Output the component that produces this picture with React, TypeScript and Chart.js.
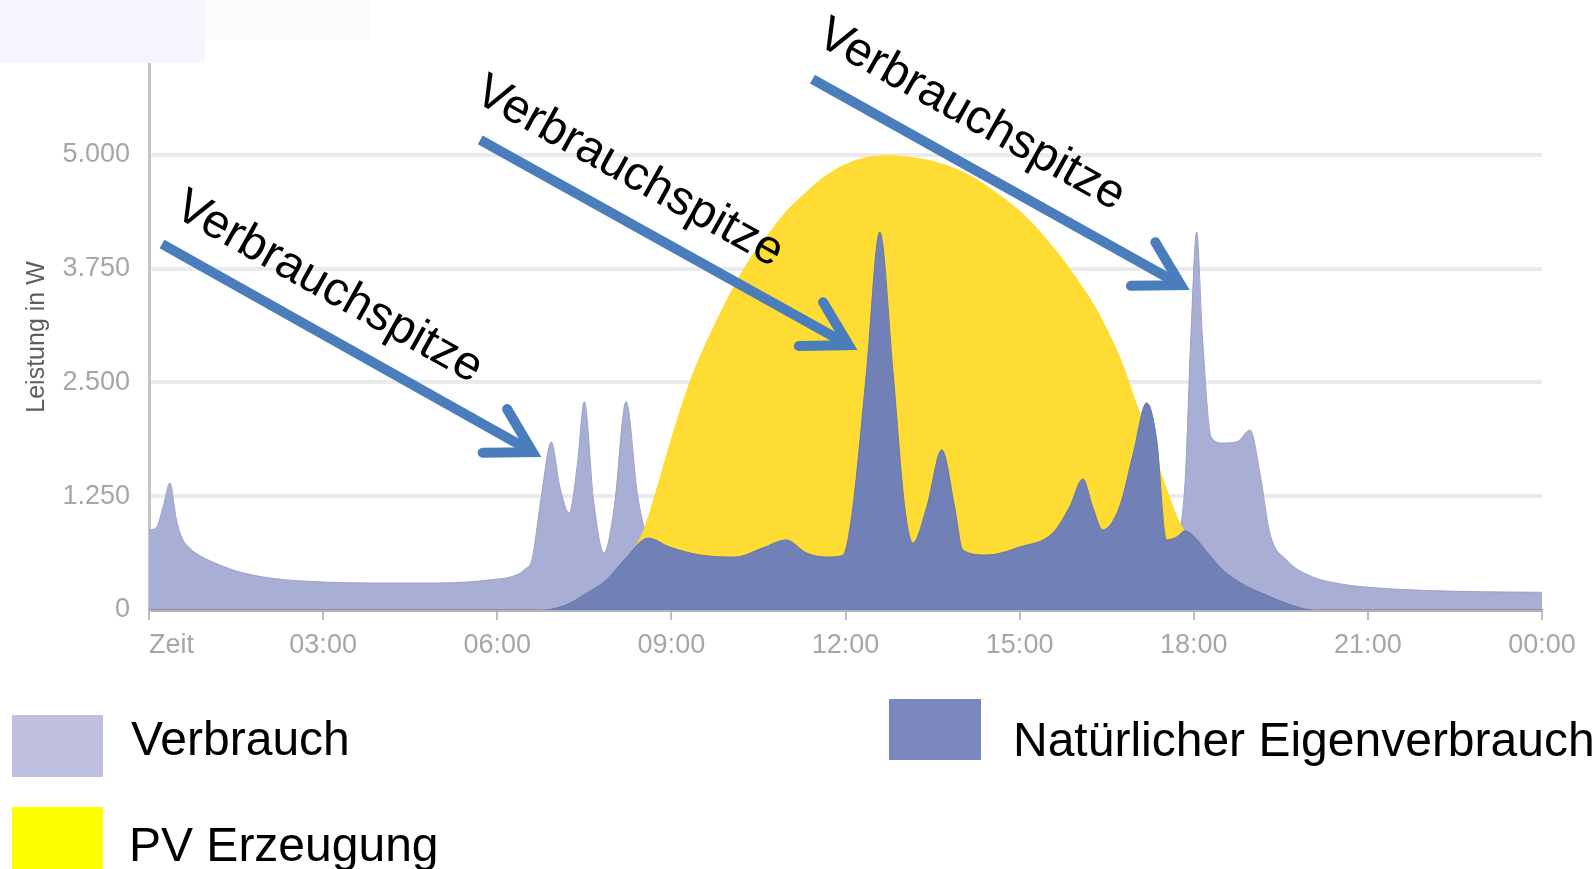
import React, { useEffect, useRef } from "react";
import { Chart, registerables } from "chart.js";

Chart.register(...registerables);

// ---------- data (hours of day, watts) ----------
const verbrauchHours = [
  0, 0.12, 0.25, 0.36, 0.47, 0.55, 0.7, 0.9, 1.2, 1.55, 2.1, 2.98, 3.85, 5.0, 5.86, 6.33, 6.48, 6.6,
  6.76, 6.93, 7.08, 7.24, 7.38, 7.5, 7.66, 7.84, 8.02, 8.22, 8.42, 8.6,
  8.97, 9.5, 10.1, 10.57, 10.98, 11.33, 11.67, 11.95, 12.1, 12.36, 12.59, 12.82, 13.02, 13.16,
  13.4, 13.66, 13.88, 14.02, 14.43, 15.0, 15.57, 15.86, 16.09, 16.26, 16.43, 16.72, 16.95, 17.19,
  17.36, 17.53, 17.7, 17.85, 17.95, 18.05, 18.15, 18.3, 18.5, 18.75, 18.97, 19.14, 19.31, 19.6,
  20.05, 20.5, 21.0, 22.0, 23.0, 24.0,
];
const verbrauchWatts = [
  880, 900, 1150, 1395, 1000, 820, 680, 590, 500, 420, 350, 308, 297, 297, 330, 385, 450, 560,
  1250, 1846, 1350, 1066, 1600, 2290, 1200, 626, 1150, 2290, 1250, 800,
  692, 604, 582, 681, 770, 626, 582, 600, 1000, 2604, 4154, 2604, 1132, 736,
  1132, 1760, 1132, 660, 604, 692, 846, 1132, 1440, 1132, 880, 1132, 1700, 2275,
  1868, 770, 800, 1400, 3000, 4154, 3000, 1900, 1835, 1850, 1978, 1505, 846, 549,
  363, 290, 250, 215, 200, 195,
];

const pvHours = [
  0, 6.8, 7.2, 7.5, 7.88, 8.2, 8.5, 8.75, 8.97, 9.2, 9.43, 9.7, 10.0, 10.35, 10.69, 11.0, 11.33,
  11.6, 11.84, 12.15, 12.47, 12.75, 12.98, 13.4, 13.84, 14.3, 14.7, 15.1, 15.57, 15.9, 16.26,
  16.5, 16.75, 17.0, 17.25, 17.5, 17.7, 17.85, 18.0, 18.25, 18.5, 18.8, 19.3, 19.7, 20.05, 24,
];
const pvWatts = [
  0, 0, 60, 170, 330, 560, 850, 1350, 1830, 2300, 2700, 3080, 3470, 3860, 4150, 4400, 4600,
  4750, 4850, 4940, 4990, 5000, 4990, 4950, 4868, 4720, 4540, 4330, 4000, 3720, 3380,
  3100, 2750, 2300, 1850, 1400, 1050, 870, 810, 620, 440, 300, 150, 50, 0, 0,
];

const eigenHours = [
  0, 6.8, 7.2, 7.5, 7.88, 8.2, 8.6,
  8.97, 9.5, 10.1, 10.57, 10.98, 11.33, 11.67, 11.95, 12.1, 12.36, 12.59, 12.82, 13.02, 13.16,
  13.4, 13.66, 13.88, 14.02, 14.43, 15.0, 15.57, 15.86, 16.09, 16.26, 16.43, 16.72, 16.95, 17.19,
  17.36, 17.53, 17.7, 17.85, 18.0, 18.25, 18.5, 18.8, 19.3, 19.7, 20.05, 24,
];
const eigenWatts = [
  0, 0, 60, 170, 330, 560, 790,
  692, 604, 582, 681, 770, 626, 582, 600, 1000, 2604, 4154, 2604, 1132, 736,
  1132, 1760, 1132, 660, 604, 692, 846, 1132, 1440, 1132, 880, 1132, 1700, 2275,
  1868, 770, 800, 870, 810, 620, 440, 300, 150, 50, 0, 0,
];

const xTickHours = [0, 3, 6, 9, 12, 15, 18, 21, 24];
const xTickLabels = ["Zeit", "03:00", "06:00", "09:00", "12:00", "15:00", "18:00", "21:00", "00:00"];
const yTickValues = [0, 1250, 2500, 3750, 5000];

const seriesLabels = ["Verbrauch", "PV Erzeugung", "Natürlicher Eigenverbrauch"];

// annotations ("Verbrauchspitze" arrows), in data units
const annotationText = "Verbrauchspitze";
const arrowStartHours = [0.224, 5.707, 11.43];
const arrowStartWatts = [4022, 5165, 5835];
const arrowTipHours = [6.76, 12.207, 17.93];
const arrowTipWatts = [1681, 2857, 3516];
const labelHours = [0.397, 5.569, 11.466];
const labelWatts = [4341, 5604, 6231];

// ---------- styles ----------
const FONT = "'Liberation Sans', Arial, Helvetica, sans-serif";
const fillColors = ["#a9aed4", "#fedc34", "#7181b7"];
const borderColors = ["#9ca1c8", "#fedc34", "#6675ad"];
const legendColors = ["#bfc0e0", "#ffff00", "#7b88bf"];
const ARROW_COLOR = "#4a7dbb";

const fmt = (v: number) => String(v).replace(/\B(?=(\d{3})+(?!\d))/g, ".");

const toPoints = (hs: number[], ws: number[]) => hs.map((h, i) => ({ x: h, y: ws[i] }));

const annotationPlugin = {
  id: "verbrauchspitzen",
  afterDatasetsDraw(chart: any) {
    const { ctx } = chart;
    const xs = chart.scales.x;
    const ys = chart.scales.y;
    for (let i = 0; i < arrowTipHours.length; i++) {
      const sx = xs.getPixelForValue(arrowStartHours[i]);
      const sy = ys.getPixelForValue(arrowStartWatts[i]);
      const tx = xs.getPixelForValue(arrowTipHours[i]);
      const ty = ys.getPixelForValue(arrowTipWatts[i]);
      const ang = Math.atan2(ty - sy, tx - sx);
      const c = Math.cos(ang);
      const s = Math.sin(ang);
      const vx = tx - 10 * c;
      const vy = ty - 10 * s;
      ctx.save();
      ctx.strokeStyle = ARROW_COLOR;
      ctx.lineWidth = 10;
      ctx.lineCap = "butt";
      ctx.beginPath();
      ctx.moveTo(sx, sy);
      ctx.lineTo(vx - 6 * c, vy - 6 * s);
      ctx.stroke();
      const hl = 50;
      const ha = Math.PI / 6;
      ctx.lineCap = "round";
      ctx.lineJoin = "miter";
      ctx.beginPath();
      ctx.moveTo(vx - hl * Math.cos(ang - ha), vy - hl * Math.sin(ang - ha));
      ctx.lineTo(vx, vy);
      ctx.lineTo(vx - hl * Math.cos(ang + ha), vy - hl * Math.sin(ang + ha));
      ctx.stroke();
      ctx.restore();

      const lx = xs.getPixelForValue(labelHours[i]);
      const ly = ys.getPixelForValue(labelWatts[i]);
      ctx.save();
      ctx.translate(lx, ly);
      ctx.rotate(ang);
      ctx.fillStyle = "#000000";
      ctx.font = `48px ${FONT}`;
      ctx.textBaseline = "alphabetic";
      ctx.textAlign = "left";
      ctx.fillText(annotationText, 0, 0);
      ctx.restore();
    }
  },
};

export default function App() {
  const canvasRef = useRef<HTMLCanvasElement | null>(null);

  useEffect(() => {
    const canvas = canvasRef.current;
    if (!canvas) return;
    const chart = new Chart(canvas, {
      type: "line",
      data: {
        datasets: [
          {
            label: seriesLabels[0],
            data: toPoints(verbrauchHours, verbrauchWatts),
            backgroundColor: fillColors[0],
            borderColor: borderColors[0],
            borderWidth: 1,
            fill: "origin",
            pointRadius: 0,
            cubicInterpolationMode: "monotone",
            order: 3,
          },
          {
            label: seriesLabels[1],
            data: toPoints(pvHours, pvWatts),
            backgroundColor: fillColors[1],
            borderColor: borderColors[1],
            borderWidth: 0,
            fill: "origin",
            pointRadius: 0,
            cubicInterpolationMode: "monotone",
            order: 2,
          },
          {
            label: seriesLabels[2],
            data: toPoints(eigenHours, eigenWatts),
            backgroundColor: fillColors[2],
            borderColor: borderColors[2],
            borderWidth: 1,
            fill: "origin",
            pointRadius: 0,
            cubicInterpolationMode: "monotone",
            order: 1,
          },
        ],
      },
      options: {
        responsive: false,
        animation: false,
        devicePixelRatio: 1,
        layout: { padding: { left: 0, top: 64, right: 52, bottom: 209 } },
        plugins: { legend: { display: false }, tooltip: { enabled: false } },
        scales: {
          x: {
            type: "linear",
            min: 0,
            max: 24,
            afterBuildTicks: (scale: any) => {
              scale.ticks = xTickHours.map((v) => ({ value: v }));
            },
            afterFit: (scale: any) => {
              scale.height = 50;
            },
            ticks: {
              autoSkip: false,
              maxRotation: 0,
              padding: 9,
              color: "#a6a6a6",
              font: { family: FONT, size: 27 },
              callback: (value: any) => {
                const i = xTickHours.indexOf(Number(value));
                if (i < 0) return "";
                return i === 0 ? "      " + xTickLabels[i] : xTickLabels[i];
              },
            },
            grid: {
              display: true,
              drawOnChartArea: false,
              drawTicks: true,
              tickLength: 10,
              color: "#bdbdbd",
              lineWidth: 2,
            },
            border: { display: true, color: "#b3b3b3", width: 3 },
          },
          y: {
            type: "linear",
            min: 0,
            max: 6000,
            afterBuildTicks: (scale: any) => {
              scale.ticks = yTickValues.map((v) => ({ value: v }));
            },
            afterFit: (scale: any) => {
              scale.width = 149;
            },
            ticks: {
              padding: 19,
              color: "#a6a6a6",
              font: { family: FONT, size: 27 },
              callback: (value: any) => fmt(Number(value)),
            },
            grid: {
              display: true,
              drawTicks: false,
              color: "#ebebeb",
              lineWidth: 4,
            },
            border: { display: true, color: "#c4c4c4", width: 3 },
            title: {
              display: true,
              text: "Leistung in W",
              color: "#5e5e5e",
              font: { family: FONT, size: 25 },
              padding: { top: 22, bottom: 0 },
            },
          },
        },
      },
      plugins: [annotationPlugin],
    } as any);
    return () => chart.destroy();
  }, []);

  const legendText: React.CSSProperties = {
    position: "absolute",
    fontFamily: FONT,
    fontSize: 48,
    lineHeight: "48px",
    color: "#000",
    whiteSpace: "nowrap",
  };

  return (
    <div
      style={{
        position: "fixed",
        left: 0,
        top: 0,
        width: 1594,
        height: 869,
        overflow: "hidden",
        background: "#ffffff",
      }}
    >
      <div style={{ position: "absolute", left: 0, top: 0, width: 205, height: 63, background: "#f6f5fd" }} />
      <div style={{ position: "absolute", left: 205, top: 0, width: 165, height: 40, background: "#fbfbfe" }} />
      <canvas
        ref={canvasRef}
        width={1594}
        height={869}
        style={{ position: "absolute", left: 0, top: 0, width: 1594, height: 869, display: "block" }}
      />
      <div style={{ position: "absolute", left: 12, top: 715, width: 91, height: 62, background: legendColors[0] }} />
      <div style={{ ...legendText, left: 131, top: 715 }}>{seriesLabels[0]}</div>
      <div style={{ position: "absolute", left: 12, top: 807, width: 91, height: 62, background: legendColors[1] }} />
      <div style={{ ...legendText, left: 129, top: 821 }}>{seriesLabels[1]}</div>
      <div style={{ position: "absolute", left: 889, top: 699, width: 92, height: 61, background: legendColors[2] }} />
      <div style={{ ...legendText, left: 1013, top: 716 }}>{seriesLabels[2]}</div>
    </div>
  );
}
